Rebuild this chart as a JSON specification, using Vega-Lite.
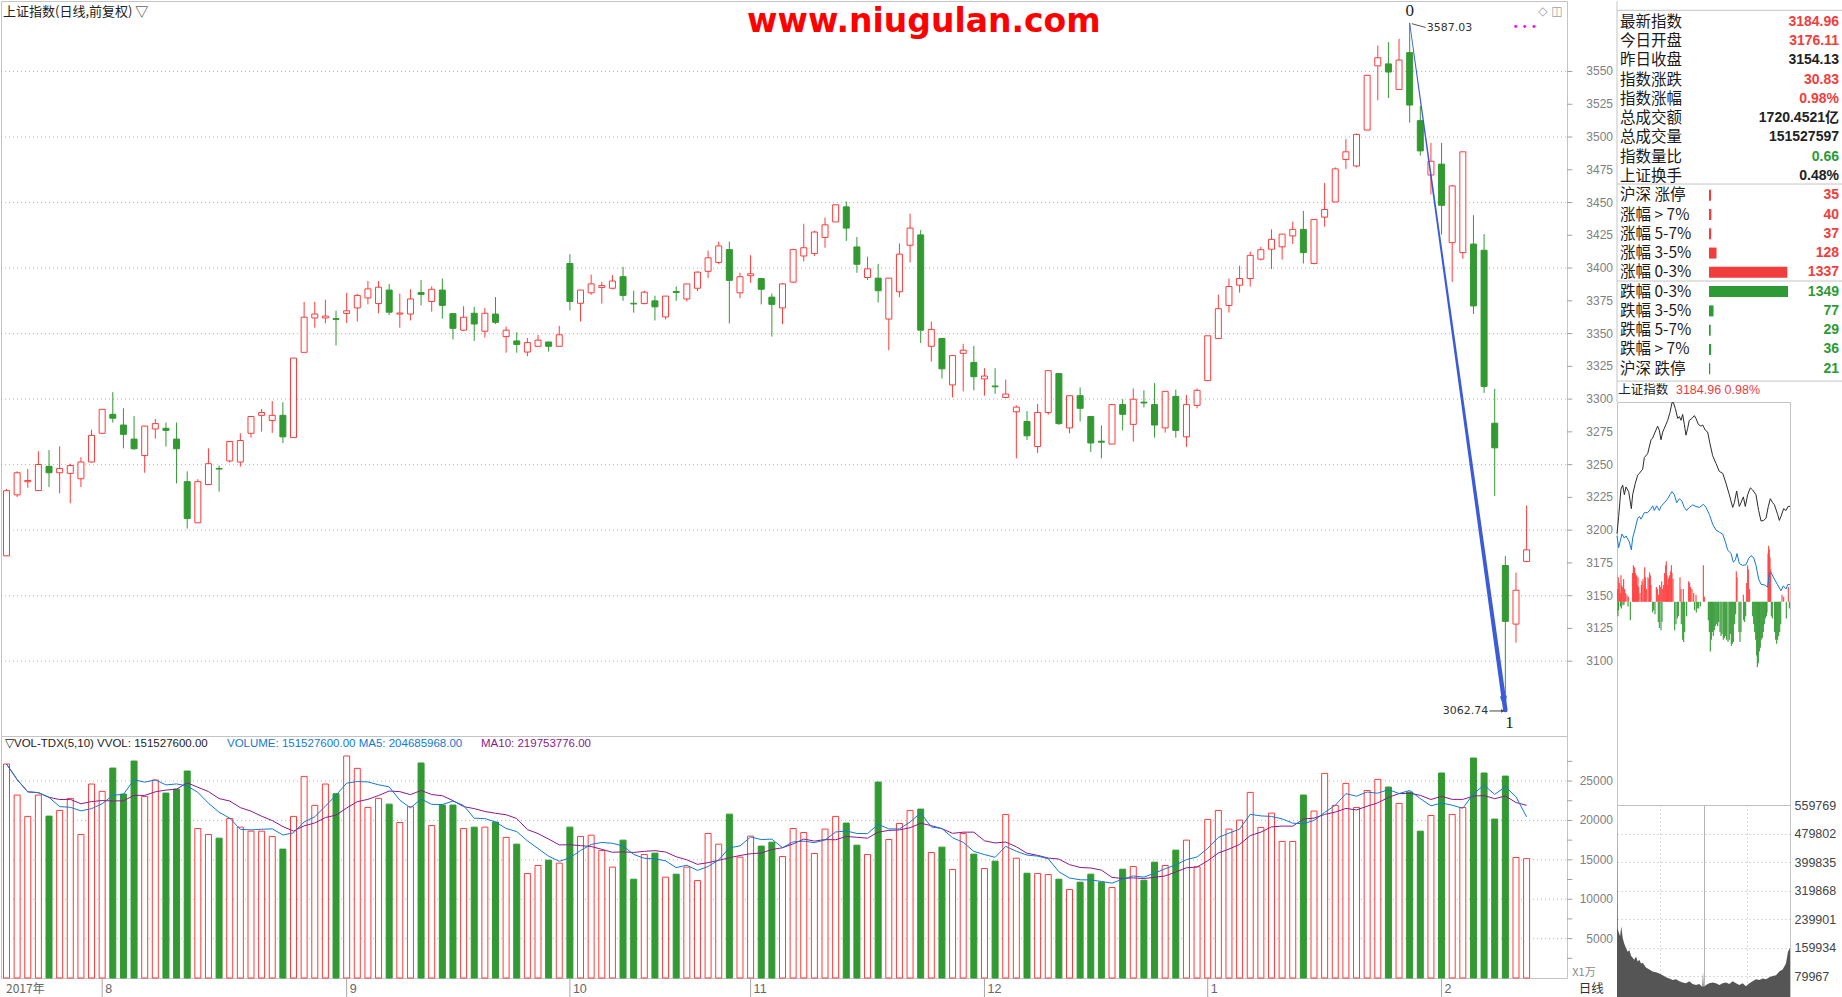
{
"$schema": "https://vega.github.io/schema/vega-lite/v6.json",
"padding": 0,
"background": "#ffffff",
"autosize": {"type": "pad"},
"bounds": "full",
"spacing": 0,
"config": {
  "view": {"stroke": "#c4c4c4", "strokeWidth": 1},
  "font": "Liberation Sans",
  "axis": {"labelFont": "Liberation Sans"}
},
"datasets": {
"k": [
{"i":0,"o":3180.4,"h":3231.5,"l":3180.4,"c":3230.1,"v":27160},
{"i":1,"o":3226.9,"h":3244.9,"l":3225.2,"c":3243.8,"v":23220},
{"i":2,"o":3236.9,"h":3246.6,"l":3232.3,"c":3237.9,"v":20510},
{"i":3,"o":3230.2,"h":3260.2,"l":3230.2,"c":3250.1,"v":23220},
{"i":4,"o":3248.7,"h":3261.1,"l":3232.9,"c":3243.8,"v":20550},
{"i":5,"o":3243.8,"h":3264.0,"l":3228.0,"c":3247.1,"v":21270},
{"i":6,"o":3243.3,"h":3250.7,"l":3220.6,"c":3249.3,"v":22800},
{"i":7,"o":3239.2,"h":3255.6,"l":3232.9,"c":3252.0,"v":18220},
{"i":8,"o":3252.0,"h":3276.6,"l":3251.5,"c":3272.3,"v":24620},
{"i":9,"o":3273.9,"h":3292.2,"l":3273.9,"c":3292.2,"v":23690},
{"i":10,"o":3288.4,"h":3305.3,"l":3282.1,"c":3285.4,"v":26650},
{"i":11,"o":3280.2,"h":3293.0,"l":3262.4,"c":3273.1,"v":23350},
{"i":12,"o":3269.5,"h":3287.0,"l":3261.3,"c":3262.1,"v":27540},
{"i":13,"o":3256.9,"h":3279.4,"l":3243.8,"c":3279.4,"v":23050},
{"i":14,"o":3277.2,"h":3284.8,"l":3269.8,"c":3281.3,"v":25130},
{"i":15,"o":3277.7,"h":3282.1,"l":3263.8,"c":3276.1,"v":23470},
{"i":16,"o":3269.5,"h":3282.1,"l":3235.6,"c":3262.1,"v":23980},
{"i":17,"o":3237.0,"h":3244.9,"l":3201.2,"c":3208.8,"v":26270},
{"i":18,"o":3205.6,"h":3238.9,"l":3205.6,"c":3237.0,"v":18980},
{"i":19,"o":3234.8,"h":3262.4,"l":3234.8,"c":3250.7,"v":18220},
{"i":20,"o":3247.1,"h":3249.3,"l":3229.3,"c":3246.6,"v":17750},
{"i":21,"o":3252.8,"h":3267.6,"l":3251.5,"c":3267.6,"v":20250},
{"i":22,"o":3252.0,"h":3273.9,"l":3248.5,"c":3268.4,"v":19150},
{"i":23,"o":3273.9,"h":3286.7,"l":3270.6,"c":3286.7,"v":18640},
{"i":24,"o":3287.6,"h":3292.5,"l":3275.2,"c":3289.8,"v":18640},
{"i":25,"o":3283.7,"h":3298.5,"l":3274.2,"c":3287.6,"v":17970},
{"i":26,"o":3287.6,"h":3297.7,"l":3266.5,"c":3271.2,"v":16360},
{"i":27,"o":3270.6,"h":3331.3,"l":3270.6,"c":3331.3,"v":20510},
{"i":28,"o":3335.7,"h":3374.2,"l":3335.7,"c":3362.5,"v":25590},
{"i":29,"o":3361.9,"h":3374.2,"l":3354.5,"c":3364.9,"v":21910},
{"i":30,"o":3361.9,"h":3375.9,"l":3357.8,"c":3363.3,"v":24620},
{"i":31,"o":3361.4,"h":3367.4,"l":3340.9,"c":3360.8,"v":23390},
{"i":32,"o":3365.4,"h":3381.1,"l":3358.1,"c":3367.4,"v":28180},
{"i":33,"o":3369.6,"h":3380.5,"l":3359.2,"c":3379.1,"v":26610},
{"i":34,"o":3377.2,"h":3390.1,"l":3372.3,"c":3384.1,"v":21650},
{"i":35,"o":3372.9,"h":3390.1,"l":3365.5,"c":3385.4,"v":22800},
{"i":36,"o":3383.2,"h":3387.9,"l":3364.1,"c":3366.3,"v":22070},
{"i":37,"o":3364.9,"h":3380.5,"l":3354.5,"c":3365.7,"v":19740},
{"i":38,"o":3364.9,"h":3383.8,"l":3360.0,"c":3376.4,"v":21740},
{"i":39,"o":3381.3,"h":3390.9,"l":3371.5,"c":3379.9,"v":27290},
{"i":40,"o":3374.5,"h":3386.0,"l":3366.8,"c":3383.8,"v":19360},
{"i":41,"o":3383.2,"h":3392.0,"l":3361.4,"c":3371.5,"v":21950},
{"i":42,"o":3365.2,"h":3365.7,"l":3345.5,"c":3354.0,"v":21950},
{"i":43,"o":3352.6,"h":3370.9,"l":3351.8,"c":3362.5,"v":18980},
{"i":44,"o":3365.5,"h":3370.4,"l":3344.4,"c":3357.3,"v":19150},
{"i":45,"o":3351.8,"h":3369.6,"l":3346.9,"c":3365.5,"v":19150},
{"i":46,"o":3364.9,"h":3377.8,"l":3357.3,"c":3358.6,"v":19790},
{"i":47,"o":3347.7,"h":3355.4,"l":3335.4,"c":3352.6,"v":17840},
{"i":48,"o":3344.4,"h":3351.0,"l":3335.4,"c":3341.7,"v":16990},
{"i":49,"o":3335.9,"h":3346.6,"l":3332.7,"c":3343.1,"v":13260},
{"i":50,"o":3340.3,"h":3349.1,"l":3340.1,"c":3345.0,"v":14280},
{"i":51,"o":3343.6,"h":3343.6,"l":3336.2,"c":3340.3,"v":14960},
{"i":52,"o":3340.3,"h":3355.9,"l":3340.3,"c":3349.1,"v":14580},
{"i":53,"o":3403.5,"h":3410.6,"l":3367.7,"c":3374.5,"v":19150},
{"i":54,"o":3373.1,"h":3383.2,"l":3359.2,"c":3383.2,"v":17970},
{"i":55,"o":3381.1,"h":3395.0,"l":3379.7,"c":3387.9,"v":18130},
{"i":56,"o":3385.2,"h":3389.5,"l":3372.9,"c":3386.6,"v":16190},
{"i":57,"o":3384.6,"h":3394.7,"l":3383.8,"c":3390.1,"v":14070},
{"i":58,"o":3393.4,"h":3401.0,"l":3375.0,"c":3379.1,"v":17500},
{"i":59,"o":3373.1,"h":3382.7,"l":3366.0,"c":3372.6,"v":12540},
{"i":60,"o":3372.9,"h":3382.7,"l":3372.3,"c":3381.6,"v":15680},
{"i":61,"o":3375.0,"h":3378.9,"l":3360.0,"c":3370.4,"v":15850},
{"i":62,"o":3362.7,"h":3378.6,"l":3360.8,"c":3378.6,"v":12800},
{"i":63,"o":3382.1,"h":3386.0,"l":3375.0,"c":3381.3,"v":13180},
{"i":64,"o":3376.4,"h":3387.9,"l":3374.5,"c":3387.9,"v":14070},
{"i":65,"o":3384.6,"h":3397.5,"l":3382.4,"c":3396.9,"v":12370},
{"i":66,"o":3397.5,"h":3413.3,"l":3392.3,"c":3407.8,"v":18350},
{"i":67,"o":3404.3,"h":3420.1,"l":3402.9,"c":3416.9,"v":16990},
{"i":68,"o":3414.1,"h":3420.1,"l":3357.8,"c":3390.6,"v":20800},
{"i":69,"o":3381.1,"h":3396.4,"l":3377.0,"c":3393.4,"v":15340},
{"i":70,"o":3394.2,"h":3409.8,"l":3388.7,"c":3395.6,"v":18010},
{"i":71,"o":3392.0,"h":3392.0,"l":3372.3,"c":3383.8,"v":16740},
{"i":72,"o":3377.8,"h":3380.5,"l":3347.7,"c":3372.3,"v":17240},
{"i":73,"o":3369.6,"h":3388.7,"l":3357.3,"c":3387.9,"v":15420},
{"i":74,"o":3389.3,"h":3414.7,"l":3388.7,"c":3414.1,"v":18980},
{"i":75,"o":3409.2,"h":3433.8,"l":3405.1,"c":3415.5,"v":18470},
{"i":76,"o":3411.1,"h":3428.4,"l":3409.2,"c":3427.5,"v":15800},
{"i":77,"o":3423.4,"h":3438.5,"l":3415.5,"c":3433.0,"v":18900},
{"i":78,"o":3435.2,"h":3448.3,"l":3435.2,"c":3448.3,"v":20510},
{"i":79,"o":3446.7,"h":3450.8,"l":3420.7,"c":3430.5,"v":19660},
{"i":80,"o":3416.1,"h":3423.7,"l":3396.4,"c":3402.9,"v":16860},
{"i":81,"o":3392.8,"h":3408.7,"l":3390.9,"c":3399.4,"v":15680},
{"i":82,"o":3392.3,"h":3403.2,"l":3373.7,"c":3382.7,"v":24870},
{"i":83,"o":3361.1,"h":3392.3,"l":3337.3,"c":3392.3,"v":17580},
{"i":84,"o":3381.9,"h":3418.8,"l":3377.8,"c":3410.6,"v":19620},
{"i":85,"o":3417.4,"h":3441.5,"l":3404.3,"c":3430.5,"v":21270},
{"i":86,"o":3425.3,"h":3428.9,"l":3342.8,"c":3352.6,"v":21440},
{"i":87,"o":3340.3,"h":3359.2,"l":3328.6,"c":3353.2,"v":15930},
{"i":88,"o":3346.3,"h":3346.3,"l":3315.7,"c":3323.1,"v":16610},
{"i":89,"o":3310.8,"h":3333.2,"l":3301.2,"c":3333.2,"v":13770},
{"i":90,"o":3334.9,"h":3342.2,"l":3305.9,"c":3337.3,"v":18350},
{"i":91,"o":3328.0,"h":3340.6,"l":3306.7,"c":3317.1,"v":15720},
{"i":92,"o":3315.4,"h":3323.6,"l":3302.6,"c":3317.6,"v":13900},
{"i":93,"o":3310.0,"h":3323.6,"l":3304.0,"c":3309.4,"v":14830},
{"i":94,"o":3301.2,"h":3314.9,"l":3300.7,"c":3303.9,"v":20760},
{"i":95,"o":3290.3,"h":3295.2,"l":3254.8,"c":3293.9,"v":15210},
{"i":96,"o":3282.9,"h":3290.8,"l":3268.9,"c":3272.0,"v":13300},
{"i":97,"o":3263.8,"h":3296.3,"l":3258.9,"c":3289.8,"v":13260},
{"i":98,"o":3289.8,"h":3321.7,"l":3288.1,"c":3321.7,"v":13140},
{"i":99,"o":3319.5,"h":3319.5,"l":3280.2,"c":3281.3,"v":12540},
{"i":100,"o":3278.0,"h":3302.6,"l":3273.9,"c":3302.6,"v":11230},
{"i":101,"o":3302.6,"h":3308.9,"l":3282.9,"c":3293.0,"v":12160},
{"i":102,"o":3286.7,"h":3286.7,"l":3259.7,"c":3266.5,"v":13180},
{"i":103,"o":3267.9,"h":3279.9,"l":3254.8,"c":3267.1,"v":12160},
{"i":104,"o":3265.7,"h":3295.8,"l":3265.7,"c":3295.8,"v":11480},
{"i":105,"o":3295.8,"h":3299.9,"l":3276.1,"c":3288.4,"v":13810},
{"i":106,"o":3280.7,"h":3308.1,"l":3267.6,"c":3299.9,"v":14150},
{"i":107,"o":3297.7,"h":3306.7,"l":3293.6,"c":3297.0,"v":12410},
{"i":108,"o":3295.8,"h":3312.2,"l":3270.6,"c":3280.2,"v":14700},
{"i":109,"o":3278.0,"h":3305.9,"l":3274.4,"c":3305.9,"v":14280},
{"i":110,"o":3302.1,"h":3307.2,"l":3270.6,"c":3276.1,"v":16230},
{"i":111,"o":3271.2,"h":3303.2,"l":3263.5,"c":3295.8,"v":17500},
{"i":112,"o":3295.2,"h":3308.1,"l":3293.0,"c":3306.7,"v":14110},
{"i":113,"o":3314.1,"h":3348.3,"l":3314.1,"c":3348.3,"v":20130},
{"i":114,"o":3346.3,"h":3379.7,"l":3345.8,"c":3369.0,"v":21270},
{"i":115,"o":3371.4,"h":3392.0,"l":3366.0,"c":3385.9,"v":18900},
{"i":116,"o":3386.9,"h":3401.7,"l":3381.2,"c":3392.0,"v":20040},
{"i":117,"o":3392.0,"h":3412.6,"l":3385.9,"c":3409.7,"v":23560},
{"i":118,"o":3406.8,"h":3416.2,"l":3405.7,"c":3414.0,"v":19110},
{"i":119,"o":3414.4,"h":3429.5,"l":3399.2,"c":3421.9,"v":20930},
{"i":120,"o":3416.2,"h":3425.9,"l":3406.4,"c":3425.9,"v":17330},
{"i":121,"o":3424.5,"h":3435.3,"l":3418.3,"c":3429.5,"v":17330},
{"i":122,"o":3429.5,"h":3443.6,"l":3403.5,"c":3411.8,"v":23220},
{"i":123,"o":3403.5,"h":3437.1,"l":3402.8,"c":3437.1,"v":21190},
{"i":124,"o":3438.9,"h":3464.9,"l":3431.7,"c":3444.7,"v":25970},
{"i":125,"o":3450.4,"h":3476.8,"l":3450.4,"c":3475.7,"v":21910},
{"i":126,"o":3482.9,"h":3498.4,"l":3475.7,"c":3488.7,"v":24700},
{"i":127,"o":3477.9,"h":3502.7,"l":3476.8,"c":3502.0,"v":21650},
{"i":128,"o":3505.3,"h":3547.1,"l":3505.3,"c":3547.1,"v":23810},
{"i":129,"o":3554.3,"h":3569.8,"l":3528.0,"c":3560.5,"v":25210},
{"i":130,"o":3555.8,"h":3572.4,"l":3529.8,"c":3549.6,"v":24240},
{"i":131,"o":3536.3,"h":3574.9,"l":3536.3,"c":3558.7,"v":22160},
{"i":132,"o":3564.4,"h":3587.03,"l":3511.0,"c":3524.4,"v":23600},
{"i":133,"o":3512.5,"h":3523.7,"l":3485.8,"c":3489.4,"v":18640},
{"i":134,"o":3471.0,"h":3495.5,"l":3456.2,"c":3481.5,"v":20630},
{"i":135,"o":3479.3,"h":3495.5,"l":3425.5,"c":3447.9,"v":26020},
{"i":136,"o":3419.4,"h":3463.4,"l":3389.5,"c":3462.7,"v":20760},
{"i":137,"o":3411.8,"h":3488.7,"l":3407.1,"c":3488.7,"v":21650},
{"i":138,"o":3418.3,"h":3440.3,"l":3365.0,"c":3371.1,"v":27920},
{"i":139,"o":3413.6,"h":3425.9,"l":3304.7,"c":3309.7,"v":26020},
{"i":140,"o":3281.6,"h":3307.9,"l":3226.0,"c":3262.8,"v":20170},
{"i":141,"o":3173.0,"h":3180.2,"l":3062.74,"c":3130.4,"v":25630},
{"i":142,"o":3128.3,"h":3167.6,"l":3114.2,"c":3154.13,"v":15300},
{"i":143,"o":3176.11,"h":3218.8,"l":3175.5,"c":3184.96,"v":15153}
],
"pt": [{"p":3100},{"p":3125},{"p":3150},{"p":3175},{"p":3200},{"p":3225},{"p":3250},{"p":3275},{"p":3300},{"p":3325},{"p":3350},{"p":3375},{"p":3400},{"p":3425},{"p":3450},{"p":3475},{"p":3500},{"p":3525},{"p":3550}],
"vt": [{"q":2500},{"q":5000},{"q":7500},{"q":10000},{"q":12500},{"q":15000},{"q":17500},{"q":20000},{"q":22500},{"q":25000},{"q":27500}],
"wave": [{"i":132,"p":3587.03},{"i":141,"p":3062.74}],
"months": [{"i":9,"m":"8"},{"i":32,"m":"9"},{"i":53,"m":"10"},{"i":70,"m":"11"},{"i":92,"m":"12"},{"i":113,"m":"1"},{"i":135,"m":"2"}],
"panel": [
{"r":0,"name":"最新指数","val":"3184.96","t":"up"},
{"r":1,"name":"今日开盘","val":"3176.11","t":"up"},
{"r":2,"name":"昨日收盘","val":"3154.13","t":"flat"},
{"r":3,"name":"指数涨跌","val":"30.83","t":"up"},
{"r":4,"name":"指数涨幅","val":"0.98%","t":"up"},
{"r":5,"name":"总成交额","val":"1720.4521亿","t":"flat"},
{"r":6,"name":"总成交量","val":"151527597","t":"flat"},
{"r":7,"name":"指数量比","val":"0.66","t":"down"},
{"r":8,"name":"上证换手","val":"0.48%","t":"flat"},
{"r":9,"name":"沪深 涨停","val":"35","t":"up","n":35},
{"r":10,"name":"涨幅 > 7%","val":"40","t":"up","n":40},
{"r":11,"name":"涨幅 5-7%","val":"37","t":"up","n":37},
{"r":12,"name":"涨幅 3-5%","val":"128","t":"up","n":128},
{"r":13,"name":"涨幅 0-3%","val":"1337","t":"up","n":1337},
{"r":14,"name":"跌幅 0-3%","val":"1349","t":"down","n":1349},
{"r":15,"name":"跌幅 3-5%","val":"77","t":"down","n":77},
{"r":16,"name":"跌幅 5-7%","val":"29","t":"down","n":29},
{"r":17,"name":"跌幅 > 7%","val":"36","t":"down","n":36},
{"r":18,"name":"沪深 跌停","val":"21","t":"down","n":21}
],
"px": [{"m":0,"p":3176.1},{"m":2.3,"p":3181.7},{"m":5.5,"p":3190.5},{"m":7.9,"p":3191.8},{"m":10.2,"p":3188.7},{"m":12.5,"p":3191.2},{"m":16.2,"p":3189.7},{"m":19.9,"p":3184.2},{"m":21.7,"p":3188.7},{"m":25.4,"p":3192.4},{"m":28.7,"p":3195.0},{"m":31.0,"p":3195.6},{"m":35.6,"p":3196.9},{"m":37.9,"p":3200.7},{"m":42.5,"p":3201.9},{"m":47.2,"p":3206.4},{"m":49.5,"p":3207.0},{"m":51.8,"p":3208.3},{"m":56.4,"p":3210.8},{"m":58.7,"p":3209.5},{"m":61.0,"p":3206.4},{"m":63.4,"p":3208.9},{"m":68.0,"p":3211.4},{"m":70.3,"p":3212.7},{"m":73.5,"p":3215.2},{"m":76.3,"p":3218.4},{"m":78.2,"p":3218.4},{"m":80.9,"p":3216.5},{"m":84.2,"p":3213.3},{"m":86.5,"p":3213.9},{"m":88.8,"p":3212.7},{"m":91.1,"p":3214.6},{"m":93.4,"p":3211.4},{"m":95.7,"p":3207.9},{"m":98.0,"p":3210.1},{"m":100.3,"p":3212.7},{"m":104.0,"p":3213.3},{"m":107.3,"p":3214.2},{"m":109.6,"p":3213.3},{"m":112.8,"p":3211.4},{"m":116.5,"p":3210.8},{"m":118.8,"p":3211.2},{"m":122.5,"p":3209.5},{"m":125.8,"p":3208.9},{"m":129.0,"p":3205.1},{"m":132.7,"p":3201.3},{"m":137.3,"p":3198.8},{"m":142.0,"p":3196.2},{"m":146.6,"p":3195.6},{"m":151.2,"p":3192.4},{"m":155.8,"p":3188.7},{"m":160.5,"p":3184.6},{"m":162.8,"p":3186.1},{"m":166.0,"p":3189.9},{"m":169.7,"p":3184.9},{"m":172.0,"p":3186.1},{"m":175.3,"p":3188.0},{"m":178.0,"p":3184.9},{"m":181.3,"p":3188.7},{"m":185.0,"p":3190.9},{"m":188.2,"p":3190.2},{"m":192.8,"p":3188.7},{"m":196.5,"p":3183.6},{"m":199.8,"p":3180.2},{"m":203.5,"p":3180.4},{"m":206.7,"p":3181.1},{"m":209.9,"p":3184.9},{"m":212.7,"p":3187.4},{"m":216.0,"p":3186.1},{"m":218.3,"p":3185.5},{"m":222.9,"p":3182.3},{"m":225.2,"p":3180.4},{"m":227.5,"p":3181.7},{"m":231.2,"p":3184.2},{"m":234.4,"p":3183.6},{"m":237.2,"p":3184.9},{"m":240,"p":3184.96}],
"avg": [{"m":0,"p":3175.4},{"m":2.3,"p":3171.6},{"m":4.2,"p":3173.5},{"m":6.9,"p":3176.0},{"m":10.2,"p":3174.7},{"m":12.5,"p":3175.4},{"m":17.1,"p":3173.5},{"m":19.9,"p":3170.9},{"m":21.7,"p":3174.7},{"m":25.4,"p":3177.9},{"m":28.7,"p":3181.1},{"m":31.0,"p":3181.7},{"m":33.3,"p":3180.8},{"m":37.9,"p":3182.9},{"m":42.5,"p":3182.9},{"m":47.2,"p":3184.2},{"m":49.5,"p":3185.1},{"m":51.8,"p":3183.6},{"m":55.0,"p":3185.1},{"m":58.7,"p":3183.6},{"m":61.0,"p":3184.9},{"m":65.7,"p":3186.1},{"m":70.3,"p":3187.4},{"m":73.5,"p":3188.7},{"m":76.3,"p":3189.7},{"m":79.5,"p":3188.7},{"m":82.8,"p":3186.1},{"m":86.5,"p":3187.4},{"m":89.7,"p":3186.8},{"m":93.4,"p":3184.6},{"m":96.6,"p":3183.6},{"m":100.3,"p":3184.6},{"m":105.0,"p":3185.4},{"m":109.6,"p":3184.9},{"m":114.2,"p":3184.6},{"m":119.8,"p":3185.6},{"m":123.5,"p":3184.6},{"m":128.1,"p":3182.3},{"m":132.7,"p":3179.2},{"m":137.3,"p":3177.3},{"m":142.0,"p":3176.6},{"m":146.6,"p":3176.0},{"m":150.3,"p":3173.5},{"m":153.5,"p":3170.9},{"m":158.2,"p":3169.7},{"m":161.4,"p":3166.9},{"m":164.2,"p":3167.7},{"m":166.5,"p":3169.7},{"m":169.7,"p":3166.5},{"m":174.3,"p":3165.9},{"m":179.0,"p":3166.1},{"m":182.7,"p":3168.2},{"m":185.9,"p":3169.0},{"m":189.6,"p":3168.4},{"m":192.8,"p":3165.9},{"m":196.5,"p":3161.5},{"m":199.8,"p":3159.8},{"m":204.4,"p":3159.6},{"m":209.0,"p":3158.9},{"m":211.3,"p":3163.4},{"m":213.6,"p":3163.7},{"m":218.3,"p":3161.5},{"m":222.9,"p":3159.6},{"m":227.5,"p":3157.7},{"m":230.7,"p":3159.3},{"m":234.4,"p":3158.3},{"m":237.2,"p":3159.8},{"m":240,"p":3159.6}],
"tick": [
{"m":0.9,"v":3158.3},{"m":1.8,"v":3162.1},{"m":3.2,"v":3160.2},{"m":4.6,"v":3157.0},{"m":5.5,"v":3162.7},{"m":6.5,"v":3159.6},{"m":7.9,"v":3158.9},{"m":9.2,"v":3161.5},{"m":10.6,"v":3158.3},{"m":12.0,"v":3157.0},{"m":13.9,"v":3156.4},{"m":15.7,"v":3155.8},{"m":21.7,"v":3163.4},{"m":22.7,"v":3165.9},{"m":23.6,"v":3164.6},{"m":24.5,"v":3165.3},{"m":25.4,"v":3163.4},{"m":26.4,"v":3162.1},{"m":27.3,"v":3162.7},{"m":28.2,"v":3159.6},{"m":29.1,"v":3162.1},{"m":30.1,"v":3158.9},{"m":31.9,"v":3157.0},{"m":33.8,"v":3159.6},{"m":34.7,"v":3160.8},{"m":36.1,"v":3161.5},{"m":37.5,"v":3159.6},{"m":38.4,"v":3165.3},{"m":39.3,"v":3162.1},{"m":40.7,"v":3158.3},{"m":43.0,"v":3162.1},{"m":44.4,"v":3161.5},{"m":45.3,"v":3163.6},{"m":46.2,"v":3162.7},{"m":47.2,"v":3159.6},{"m":54.6,"v":3158.9},{"m":56.0,"v":3158.3},{"m":57.8,"v":3156.4},{"m":59.2,"v":3159.6},{"m":60.6,"v":3158.9},{"m":62.0,"v":3160.8},{"m":63.4,"v":3158.3},{"m":64.7,"v":3159.6},{"m":66.1,"v":3163.4},{"m":67.5,"v":3165.9},{"m":68.4,"v":3167.2},{"m":69.4,"v":3162.7},{"m":70.3,"v":3159.6},{"m":71.2,"v":3161.5},{"m":72.1,"v":3162.1},{"m":73.1,"v":3162.7},{"m":74.5,"v":3164.0},{"m":75.4,"v":3165.9},{"m":76.3,"v":3163.4},{"m":77.7,"v":3161.5},{"m":87.4,"v":3162.1},{"m":88.8,"v":3158.3},{"m":92.0,"v":3158.3},{"m":99.4,"v":3160.8},{"m":100.8,"v":3160.2},{"m":102.2,"v":3158.9},{"m":104.0,"v":3158.3},{"m":106.4,"v":3157.0},{"m":109.6,"v":3156.4},{"m":119.8,"v":3165.9},{"m":121.2,"v":3155.8},{"m":165.5,"v":3164.0},{"m":166.5,"v":3162.1},{"m":175.3,"v":3156.4},{"m":179.9,"v":3160.2},{"m":181.3,"v":3165.9},{"m":182.2,"v":3164.6},{"m":184.0,"v":3158.3},{"m":209.5,"v":3169.7},{"m":210.4,"v":3172.2},{"m":211.3,"v":3171.0},{"m":212.3,"v":3168.4},{"m":213.2,"v":3164.6},{"m":228.9,"v":3156.4},{"m":231.2,"v":3155.8},{"m":237.7,"v":3158.9},
{"m":1.3,"v":3149.5},{"m":2.2,"v":3151.4},{"m":5.0,"v":3152.6},{"m":6.0,"v":3152.0},{"m":8.3,"v":3153.0},{"m":9.7,"v":3153.2},{"m":15.3,"v":3152.6},{"m":18.5,"v":3148.2},{"m":49.5,"v":3150.7},{"m":50.9,"v":3151.4},{"m":52.7,"v":3150.1},{"m":57.3,"v":3147.6},{"m":58.7,"v":3145.7},{"m":61.0,"v":3145.0},{"m":62.4,"v":3147.6},{"m":80.0,"v":3145.0},{"m":81.8,"v":3146.9},{"m":83.7,"v":3148.8},{"m":85.1,"v":3149.5},{"m":89.2,"v":3146.9},{"m":91.1,"v":3141.9},{"m":92.5,"v":3141.2},{"m":93.9,"v":3144.4},{"m":96.6,"v":3149.5},{"m":107.7,"v":3151.4},{"m":110.0,"v":3150.7},{"m":111.4,"v":3152.0},{"m":113.3,"v":3152.0},{"m":115.6,"v":3152.6},{"m":126.7,"v":3148.2},{"m":128.1,"v":3144.4},{"m":129.5,"v":3138.1},{"m":130.9,"v":3141.9},{"m":132.3,"v":3144.4},{"m":133.6,"v":3143.1},{"m":135.0,"v":3145.0},{"m":136.4,"v":3146.3},{"m":138.3,"v":3146.9},{"m":139.7,"v":3146.3},{"m":141.0,"v":3147.6},{"m":142.9,"v":3144.4},{"m":144.3,"v":3143.1},{"m":145.7,"v":3143.8},{"m":147.5,"v":3141.9},{"m":148.9,"v":3142.5},{"m":150.3,"v":3143.1},{"m":152.1,"v":3141.9},{"m":154.0,"v":3141.2},{"m":155.8,"v":3141.9},{"m":157.2,"v":3143.8},{"m":158.6,"v":3140.0},{"m":160.0,"v":3140.6},{"m":161.4,"v":3141.2},{"m":163.2,"v":3146.9},{"m":164.6,"v":3150.1},{"m":169.2,"v":3144.4},{"m":170.6,"v":3141.2},{"m":172.0,"v":3144.4},{"m":175.7,"v":3148.2},{"m":177.1,"v":3147.6},{"m":178.5,"v":3149.5},{"m":188.2,"v":3149.5},{"m":189.6,"v":3146.9},{"m":191.0,"v":3144.4},{"m":192.4,"v":3141.9},{"m":193.8,"v":3136.8},{"m":194.7,"v":3133.0},{"m":196.1,"v":3134.3},{"m":197.5,"v":3138.1},{"m":198.8,"v":3139.3},{"m":200.2,"v":3141.9},{"m":201.6,"v":3142.5},{"m":203.0,"v":3144.4},{"m":204.4,"v":3146.9},{"m":205.8,"v":3148.8},{"m":207.2,"v":3149.5},{"m":208.1,"v":3150.7},{"m":214.1,"v":3149.5},{"m":215.5,"v":3148.8},{"m":218.7,"v":3144.4},{"m":220.1,"v":3141.9},{"m":221.5,"v":3140.6},{"m":222.9,"v":3141.9},{"m":224.3,"v":3143.1},{"m":225.7,"v":3144.4},{"m":227.1,"v":3146.9},{"m":234.9,"v":3148.8},{"m":239.1,"v":3152.0}
],
"ivol": [{"m":0,"q":512800},{"m":0.9,"q":214100},{"m":2.3,"q":203100},{"m":4.2,"q":192200},{"m":6.0,"q":219600},{"m":7.9,"q":186700},{"m":10.2,"q":170200},{"m":12.5,"q":159200},{"m":14.8,"q":148200},{"m":17.1,"q":153700},{"m":19.4,"q":137300},{"m":21.7,"q":131800},{"m":24.0,"q":126300},{"m":26.4,"q":135100},{"m":28.7,"q":120800},{"m":31.0,"q":126300},{"m":33.3,"q":115300},{"m":35.6,"q":117500},{"m":40.2,"q":104300},{"m":44.9,"q":98800},{"m":49.5,"q":93300},{"m":54.1,"q":91100},{"m":58.7,"q":87800},{"m":63.4,"q":82400},{"m":68.0,"q":76900},{"m":72.6,"q":73600},{"m":77.2,"q":69200},{"m":81.8,"q":71400},{"m":86.5,"q":65900},{"m":91.1,"q":62600},{"m":95.7,"q":60400},{"m":100.3,"q":65900},{"m":104.9,"q":58200},{"m":109.6,"q":54900},{"m":114.2,"q":58200},{"m":118.4,"q":49400},{"m":119.3,"q":93300},{"m":120.2,"q":49400},{"m":123.5,"q":54900},{"m":128.1,"q":60400},{"m":132.7,"q":62600},{"m":137.3,"q":60400},{"m":142.0,"q":54900},{"m":146.6,"q":60400},{"m":151.2,"q":62600},{"m":155.8,"q":58200},{"m":160.5,"q":65900},{"m":165.1,"q":60400},{"m":169.7,"q":54900},{"m":174.3,"q":60400},{"m":178.9,"q":51600},{"m":183.6,"q":60400},{"m":188.2,"q":65900},{"m":192.8,"q":71400},{"m":197.5,"q":69200},{"m":202.1,"q":73600},{"m":206.7,"q":71400},{"m":211.3,"q":76900},{"m":216.0,"q":80200},{"m":220.6,"q":82400},{"m":225.2,"q":93300},{"m":229.8,"q":98800},{"m":234.4,"q":115300},{"m":237.2,"q":148200},{"m":240,"q":159200}]
},
"hconcat": [
{
 "spacing": 0,
 "bounds": "flush",
 "vconcat": [
 {
  "width": 1566, "height": 735,
  "layer": [
   {"data": {"name": "pt"},
    "transform": [{"filter": "datum.p % 50 === 0"}],
    "mark": {"type": "rule", "color": "#b4b4b4", "strokeDash": [1, 3]},
    "encoding": {
     "x": {"datum": -0.517, "type": "quantitative", "scale": {"domain": [-0.517, 146.8], "nice": false, "zero": false, "padding": 0}, "axis": null},
     "x2": {"datum": 146.8},
     "y": {"field": "p", "type": "quantitative", "title": null, "scale": {"domain": [3042.9, 3603.8], "nice": false, "zero": false, "padding": 0}, "axis": null}
    }},
   {"data": {"name": "pt"},
    "mark": {"type": "rule", "color": "#a0a0a0"},
    "encoding": {
     "x": {"datum": 146.8, "type": "quantitative", "axis": null},
     "x2": {"datum": 147.3},
     "y": {"field": "p", "type": "quantitative", "title": null, "axis": null}
    }},
   {"data": {"name": "pt"},
    "mark": {"type": "text", "align": "right", "baseline": "middle", "font": "Liberation Sans", "fontSize": 12, "color": "#808080"},
    "encoding": {
     "x": {"datum": 151.13, "type": "quantitative", "axis": null},
     "y": {"field": "p", "type": "quantitative", "title": null, "axis": null},
     "text": {"field": "p", "type": "quantitative", "format": "d"}
    }},
   {"data": {"name": "k"},
    "mark": {"type": "rule", "strokeWidth": 1},
    "encoding": {
     "x": {"field": "i", "type": "quantitative", "title": null, "axis": null},
     "y": {"field": "l", "type": "quantitative", "title": null, "axis": null},
     "y2": {"field": "h"},
     "color": {"condition": {"test": "datum.c >= datum.o", "value": "#ff3b3b"}, "value": "#339933"}
    }},
   {"data": {"name": "k"},
    "mark": {"type": "bar", "size": 6, "strokeWidth": 1},
    "encoding": {
     "x": {"field": "i", "type": "quantitative", "title": null, "axis": null},
     "y": {"field": "o", "type": "quantitative", "title": null, "axis": null},
     "y2": {"field": "c"},
     "fill": {"condition": {"test": "datum.c >= datum.o", "value": "#ffffff"}, "value": "#339933"},
     "stroke": {"condition": {"test": "datum.c >= datum.o", "value": "#ff3b3b"}, "value": "#339933"}
    }},
   {"data": {"name": "wave"},
    "mark": {"type": "trail", "color": "#3b5bd9"},
    "encoding": {
     "x": {"field": "i", "type": "quantitative", "title": null, "axis": null},
     "y": {"field": "p", "type": "quantitative", "title": null, "axis": null},
     "size": {"field": "i", "type": "quantitative", "scale": {"domain": [132, 141], "range": [0.8, 4.5]}, "legend": null}
    }},
   {"data": {"values": [{}]},
    "mark": {"type": "point", "shape": "M -0.5 -1 L 0.5 -1 L 0 1 Z", "size": 196, "filled": true, "opacity": 1, "color": "#3b5bd9", "angle": 352},
    "encoding": {"x": {"datum": 140.9, "type": "quantitative", "axis": null}, "y": {"datum": 3068.1, "type": "quantitative", "axis": null}}},
   {"data": {"values": [{}]},
    "mark": {"type": "rule", "color": "#555555", "strokeWidth": 1},
    "encoding": {"x": {"datum": 132.2, "type": "quantitative", "axis": null}, "x2": {"datum": 133.5}, "y": {"datum": 3586.5, "type": "quantitative", "axis": null}, "y2": {"datum": 3583.6}}},
   {"data": {"values": [{}]},
    "mark": {"type": "rule", "color": "#444444", "strokeWidth": 1},
    "encoding": {"x": {"datum": 139.5, "type": "quantitative", "axis": null}, "x2": {"datum": 140.85}, "y": {"datum": 3062.0, "type": "quantitative", "axis": null}}},
   {"data": {"values": [{}]},
    "mark": {"type": "point", "shape": "triangle-right", "size": 14, "filled": true, "opacity": 1, "color": "#444444"},
    "encoding": {"x": {"datum": 140.75, "type": "quantitative", "axis": null}, "y": {"datum": 3062.0, "type": "quantitative", "axis": null}}},
   {"data": {"values": [{}]},
    "mark": {"type": "text", "text": "上证指数(日线,前复权) ▽", "align": "left", "baseline": "middle", "font": "Noto Sans CJK SC", "fontSize": 13, "color": "#222222"},
    "encoding": {"x": {"datum": -0.33, "type": "quantitative", "axis": null}, "y": {"datum": 3595.4, "type": "quantitative", "axis": null}}},
   {"data": {"values": [{}]},
    "mark": {"type": "text", "text": "www.niugulan.com", "align": "center", "baseline": "alphabetic", "font": "DejaVu Sans", "fontWeight": "bold", "fontSize": 33, "color": "#ff0000"},
    "encoding": {"x": {"datum": 86.3, "type": "quantitative", "axis": null}, "y": {"datum": 3580.5, "type": "quantitative", "axis": null}}},
   {"data": {"values": [{}]},
    "mark": {"type": "text", "text": "0", "align": "center", "baseline": "bottom", "font": "Liberation Serif", "fontSize": 17, "color": "#222222"},
    "encoding": {"x": {"datum": 132, "type": "quantitative", "axis": null}, "y": {"datum": 3589.4, "type": "quantitative", "axis": null}}},
   {"data": {"values": [{}]},
    "mark": {"type": "text", "text": "3587.03", "align": "left", "baseline": "middle", "font": "DejaVu Sans", "fontSize": 11, "color": "#333333"},
    "encoding": {"x": {"datum": 133.6, "type": "quantitative", "axis": null}, "y": {"datum": 3583.1, "type": "quantitative", "axis": null}}},
   {"data": {"values": [{}]},
    "mark": {"type": "text", "text": "3062.74", "align": "right", "baseline": "middle", "font": "DejaVu Sans", "fontSize": 11, "color": "#333333"},
    "encoding": {"x": {"datum": 139.4, "type": "quantitative", "axis": null}, "y": {"datum": 3061.8, "type": "quantitative", "axis": null}}},
   {"data": {"values": [{}]},
    "mark": {"type": "text", "text": "1", "align": "center", "baseline": "bottom", "font": "Liberation Serif", "fontSize": 17, "color": "#222222"},
    "encoding": {"x": {"datum": 141.4, "type": "quantitative", "axis": null}, "y": {"datum": 3046, "type": "quantitative", "axis": null}}},
   {"data": {"values": [{}]},
    "mark": {"type": "text", "text": "• • •", "align": "left", "baseline": "middle", "font": "DejaVu Sans", "fontSize": 10, "color": "#ff00ff"},
    "encoding": {"x": {"datum": 141.7, "type": "quantitative", "axis": null}, "y": {"datum": 3584.0, "type": "quantitative", "axis": null}}},
   {"data": {"values": [{}]},
    "mark": {"type": "text", "text": "◇ ◫", "align": "left", "baseline": "middle", "font": "DejaVu Sans", "fontSize": 12, "color": "#a0a0a0"},
    "encoding": {"x": {"datum": 144.1, "type": "quantitative", "axis": null}, "y": {"datum": 3595.8, "type": "quantitative", "axis": null}}}
  ]
 },
 {
  "width": 1566, "height": 242,
  "layer": [
   {"data": {"name": "vt"},
    "transform": [{"filter": "datum.q % 5000 === 0"}],
    "mark": {"type": "rule", "color": "#b4b4b4", "strokeDash": [1, 3]},
    "encoding": {
     "x": {"datum": -0.517, "type": "quantitative", "scale": {"domain": [-0.517, 146.8], "nice": false, "zero": false, "padding": 0},
       "axis": {"orient": "bottom", "values": [14.75, 20.5, 26.25, 37.25, 42.5, 47.75, 57.25, 61.5, 65.75, 75.5, 81, 86.5, 97.25, 102.5, 107.75, 118.5, 124, 129.5], "labels": false, "ticks": true, "tickSize": 4, "tickColor": "#a8a8a8", "domain": false, "grid": false, "title": null}},
     "x2": {"datum": 146.8},
     "y": {"field": "q", "type": "quantitative", "title": null, "scale": {"domain": [0, 30718], "nice": false, "padding": 0}, "axis": null}
    }},
   {"data": {"name": "vt"},
    "mark": {"type": "rule", "color": "#a0a0a0"},
    "encoding": {
     "x": {"datum": 146.8, "type": "quantitative", "axis": null},
     "x2": {"datum": 147.3},
     "y": {"field": "q", "type": "quantitative", "title": null, "axis": null}
    }},
   {"data": {"name": "vt"},
    "transform": [{"filter": "datum.q % 5000 === 0"}],
    "mark": {"type": "text", "align": "right", "baseline": "middle", "font": "Liberation Sans", "fontSize": 12, "color": "#808080"},
    "encoding": {
     "x": {"datum": 151.13, "type": "quantitative", "axis": null},
     "y": {"field": "q", "type": "quantitative", "title": null, "axis": null},
     "text": {"field": "q", "type": "quantitative", "format": "d"}
    }},
   {"data": {"name": "k"},
    "mark": {"type": "bar", "size": 6, "strokeWidth": 1},
    "encoding": {
     "x": {"field": "i", "type": "quantitative", "title": null, "axis": null},
     "y": {"field": "v", "type": "quantitative", "title": null, "axis": null},
     "fill": {"condition": {"test": "datum.c >= datum.o", "value": "#ffffff"}, "value": "#339933"},
     "stroke": {"condition": {"test": "datum.c >= datum.o", "value": "#ff3b3b"}, "value": "#339933"}
    }},
   {"data": {"name": "k"},
    "transform": [{"window": [{"op": "mean", "field": "v", "as": "ma10"}], "frame": [-9, 0], "sort": [{"field": "i"}]}],
    "mark": {"type": "line", "color": "#8a1a8a", "strokeWidth": 1},
    "encoding": {"x": {"field": "i", "type": "quantitative", "title": null, "axis": null}, "y": {"field": "ma10", "type": "quantitative", "title": null, "axis": null}}},
   {"data": {"name": "k"},
    "transform": [{"window": [{"op": "mean", "field": "v", "as": "ma5"}], "frame": [-4, 0], "sort": [{"field": "i"}]}],
    "mark": {"type": "line", "color": "#1479d4", "strokeWidth": 1},
    "encoding": {"x": {"field": "i", "type": "quantitative", "title": null, "axis": null}, "y": {"field": "ma5", "type": "quantitative", "title": null, "axis": null}}},
   {"data": {"name": "months"},
    "mark": {"type": "rule", "color": "#a8a8a8", "strokeWidth": 1},
    "encoding": {"x": {"field": "i", "type": "quantitative", "title": null, "axis": null}, "y": {"datum": 0, "type": "quantitative", "axis": null}, "y2": {"datum": -2540}}},
   {"data": {"name": "months"},
    "mark": {"type": "text", "align": "left", "baseline": "middle", "dx": 3, "font": "Liberation Sans", "fontSize": 12.5, "color": "#666666"},
    "encoding": {"x": {"field": "i", "type": "quantitative", "title": null, "axis": null}, "y": {"datum": -1400, "type": "quantitative", "axis": null}, "text": {"field": "m"}}},
   {"data": {"values": [{}]},
    "mark": {"type": "text", "text": "2017年", "align": "left", "baseline": "middle", "dx": 5, "font": "Noto Sans CJK SC", "fontSize": 12, "color": "#666666"},
    "encoding": {"x": {"datum": -0.517, "type": "quantitative", "axis": null}, "y": {"datum": -1400, "type": "quantitative", "axis": null}}},
   {"data": {"values": [{}]},
    "mark": {"type": "text", "text": "日线", "align": "left", "baseline": "middle", "font": "Noto Sans CJK SC", "fontSize": 12.5, "color": "#333333"},
    "encoding": {"x": {"datum": 147.9, "type": "quantitative", "axis": null}, "y": {"datum": -1400, "type": "quantitative", "axis": null}}},
   {"data": {"values": [{}]},
    "mark": {"type": "text", "text": "X1万", "align": "left", "baseline": "middle", "font": "Noto Sans CJK SC", "fontSize": 11, "color": "#8a8a8a"},
    "encoding": {"x": {"datum": 147.3, "type": "quantitative", "axis": null}, "y": {"datum": 640, "type": "quantitative", "axis": null}}},
   {"data": {"values": [{}]},
    "mark": {"type": "text", "text": "▽VOL-TDX(5,10)  VVOL: 151527600.00", "align": "left", "baseline": "middle", "font": "Liberation Sans", "fontSize": 11.5, "color": "#222222"},
    "encoding": {"x": {"datum": -0.14, "type": "quantitative", "axis": null}, "y": {"datum": 29702, "type": "quantitative", "axis": null}}},
   {"data": {"values": [{}]},
    "mark": {"type": "text", "text": "VOLUME: 151527600.00  MA5: 204685968.00", "align": "left", "baseline": "middle", "font": "Liberation Sans", "fontSize": 11.5, "color": "#1479d4"},
    "encoding": {"x": {"datum": 20.74, "type": "quantitative", "axis": null}, "y": {"datum": 29702, "type": "quantitative", "axis": null}}},
   {"data": {"values": [{}]},
    "mark": {"type": "text", "text": "MA10: 219753776.00", "align": "left", "baseline": "middle", "font": "Liberation Sans", "fontSize": 11.5, "color": "#8a1a8a"},
    "encoding": {"x": {"datum": 44.64, "type": "quantitative", "axis": null}, "y": {"datum": 29702, "type": "quantitative", "axis": null}}}
  ]
 }
 ]
},
{
 "spacing": 0,
 "bounds": "flush",
 "vconcat": [
 {
  "width": 225, "height": 401,
  "view": {"stroke": null},
  "layer": [
   {"data": {"name": "panel"},
    "mark": {"type": "text", "align": "left", "baseline": "middle", "font": "Noto Sans CJK SC", "fontSize": 15.5, "color": "#1a1a1a"},
    "encoding": {
     "x": {"datum": -1520, "type": "quantitative", "scale": {"domain": [-1571, 2271], "nice": false, "zero": false, "padding": 0}, "axis": null},
     "y": {"field": "r", "type": "quantitative", "title": null, "scale": {"domain": [19.725, -1.0737], "nice": false, "zero": false, "padding": 0}, "axis": null},
     "text": {"field": "name"}
    }},
   {"data": {"name": "panel"},
    "mark": {"type": "text", "align": "right", "baseline": "middle", "font": "Liberation Sans, Noto Sans CJK SC", "fontWeight": "bold", "fontSize": 14},
    "encoding": {
     "x": {"datum": 2220, "type": "quantitative", "axis": null},
     "y": {"field": "r", "type": "quantitative", "title": null, "axis": null},
     "text": {"field": "val"},
     "color": {"field": "t", "type": "nominal", "scale": {"domain": ["up", "down", "flat"], "range": ["#f23d3d", "#2e9a36", "#222222"]}, "legend": null}
    }},
   {"data": {"name": "panel"},
    "transform": [{"filter": "isValid(datum.n)"}],
    "mark": {"type": "bar", "size": 11},
    "encoding": {
     "x": {"field": "n", "type": "quantitative", "title": null, "axis": null},
     "x2": {"datum": 0},
     "y": {"field": "r", "type": "quantitative", "title": null, "axis": null},
     "color": {"field": "t", "type": "nominal", "legend": null}
    }},
   {"data": {"values": [{}]},
    "mark": {"type": "rule", "color": "#c4c4c4", "strokeWidth": 1},
    "encoding": {"x": {"datum": -1571, "type": "quantitative", "axis": null}, "x2": {"datum": 2271}, "y": {"datum": -0.59, "type": "quantitative", "axis": null}}},
   {"data": {"values": [{}]},
    "mark": {"type": "rule", "color": "#c4c4c4", "strokeWidth": 1},
    "encoding": {"x": {"datum": -1571, "type": "quantitative", "axis": null}, "x2": {"datum": 2271}, "y": {"datum": 8.42, "type": "quantitative", "axis": null}}},
   {"data": {"values": [{}]},
    "mark": {"type": "rule", "color": "#c4c4c4", "strokeWidth": 1},
    "encoding": {"x": {"datum": -1571, "type": "quantitative", "axis": null}, "x2": {"datum": 2271}, "y": {"datum": 13.45, "type": "quantitative", "axis": null}}},
   {"data": {"values": [{}]},
    "mark": {"type": "rule", "color": "#c4c4c4", "strokeWidth": 1},
    "encoding": {"x": {"datum": -1571, "type": "quantitative", "axis": null}, "x2": {"datum": 2271}, "y": {"datum": 18.64, "type": "quantitative", "axis": null}}},
   {"data": {"values": [{}]},
    "mark": {"type": "rule", "color": "#c4c4c4", "strokeWidth": 1},
    "encoding": {"x": {"datum": -1571, "type": "quantitative", "axis": null}, "y": {"datum": -1.0737, "type": "quantitative", "axis": null}, "y2": {"datum": 19.725}}}
  ]
 },
 {
  "width": 173, "height": 403,
  "layer": [
   {"data": {"name": "tick"},
    "mark": {"type": "rule", "strokeWidth": 1.1},
    "encoding": {
     "x": {"field": "m", "type": "quantitative", "title": null, "scale": {"domain": [0, 240], "nice": false, "zero": false},
       "axis": {"values": [60, 120, 180], "labels": false, "ticks": false, "domain": false, "title": null, "grid": true, "gridColor": "#b5b5b5", "gridDash": {"condition": {"test": "datum.value === 120", "value": []}, "value": [1, 3]}}},
     "y": {"field": "v", "type": "quantitative", "title": null, "scale": {"domain": [3088.6, 3218.6], "nice": false, "zero": false},
       "axis": {"orient": "right", "values": [3098,3108,3117,3126,3136,3145,3154,3163,3173,3182,3191,3201,3210,3219], "format": "d", "title": null, "domain": false, "ticks": false, "labelPadding": 5, "labelFontSize": 13, "labelFont": "Liberation Sans", "labelColor": {"condition": [{"test": "datum.value > 3155", "value": "#f03c3c"}, {"test": "datum.value < 3153", "value": "#2e9a36"}], "value": "#333333"}, "grid": true, "gridColor": "#b5b5b5", "gridDash": [1, 3]}},
     "y2": {"datum": 3154.13},
     "color": {"condition": {"test": "datum.v > 3154.13", "value": "#ff4040"}, "value": "#339933"}
    }},
   {"data": {"name": "avg"},
    "mark": {"type": "line", "color": "#1479d4", "strokeWidth": 1},
    "encoding": {"x": {"field": "m", "type": "quantitative", "title": null, "axis": null}, "y": {"field": "p", "type": "quantitative", "title": null, "axis": null}}},
   {"data": {"name": "px"},
    "mark": {"type": "line", "color": "#2b2b2b", "strokeWidth": 1},
    "encoding": {"x": {"field": "m", "type": "quantitative", "title": null, "axis": null}, "y": {"field": "p", "type": "quantitative", "title": null, "axis": null}}},
   {"data": {"values": [{}]},
    "mark": {"type": "text", "text": "上证指数", "align": "left", "baseline": "middle", "font": "Noto Sans CJK SC", "fontSize": 12.5, "color": "#222222"},
    "encoding": {"x": {"datum": 1.8, "type": "quantitative", "axis": null}, "y": {"datum": 3222.6, "type": "quantitative", "axis": null}}},
   {"data": {"values": [{}]},
    "mark": {"type": "text", "text": "3184.96  0.98%", "align": "left", "baseline": "middle", "font": "Liberation Sans", "fontSize": 12.5, "color": "#f03c3c"},
    "encoding": {"x": {"datum": 81.8, "type": "quantitative", "axis": null}, "y": {"datum": 3222.6, "type": "quantitative", "axis": null}}}
  ]
 },
 {
  "width": 173, "height": 193,
  "data": {"name": "ivol"},
  "mark": {"type": "area", "color": "#555555"},
  "encoding": {
   "x": {"field": "m", "type": "quantitative", "title": null, "scale": {"domain": [0, 240], "nice": false, "zero": false},
     "axis": {"values": [60, 120, 180], "labels": false, "ticks": false, "domain": false, "title": null, "grid": true, "gridColor": "#b5b5b5", "gridDash": {"condition": {"test": "datum.value === 120", "value": []}, "value": [1, 3]}}},
   "y": {"field": "q", "type": "quantitative", "title": null, "scale": {"domain": [18788, 560000], "nice": false, "zero": false},
     "axis": {"orient": "right", "values": [79967,159934,239901,319868,399835,479802,559769], "format": "d", "title": null, "domain": false, "ticks": false, "labelPadding": 4, "labelFontSize": 12.5, "labelFont": "Liberation Sans", "labelColor": "#444444", "grid": true, "gridColor": "#b5b5b5", "gridDash": [1, 3]}}
  }
 }
 ]
}
]
}
